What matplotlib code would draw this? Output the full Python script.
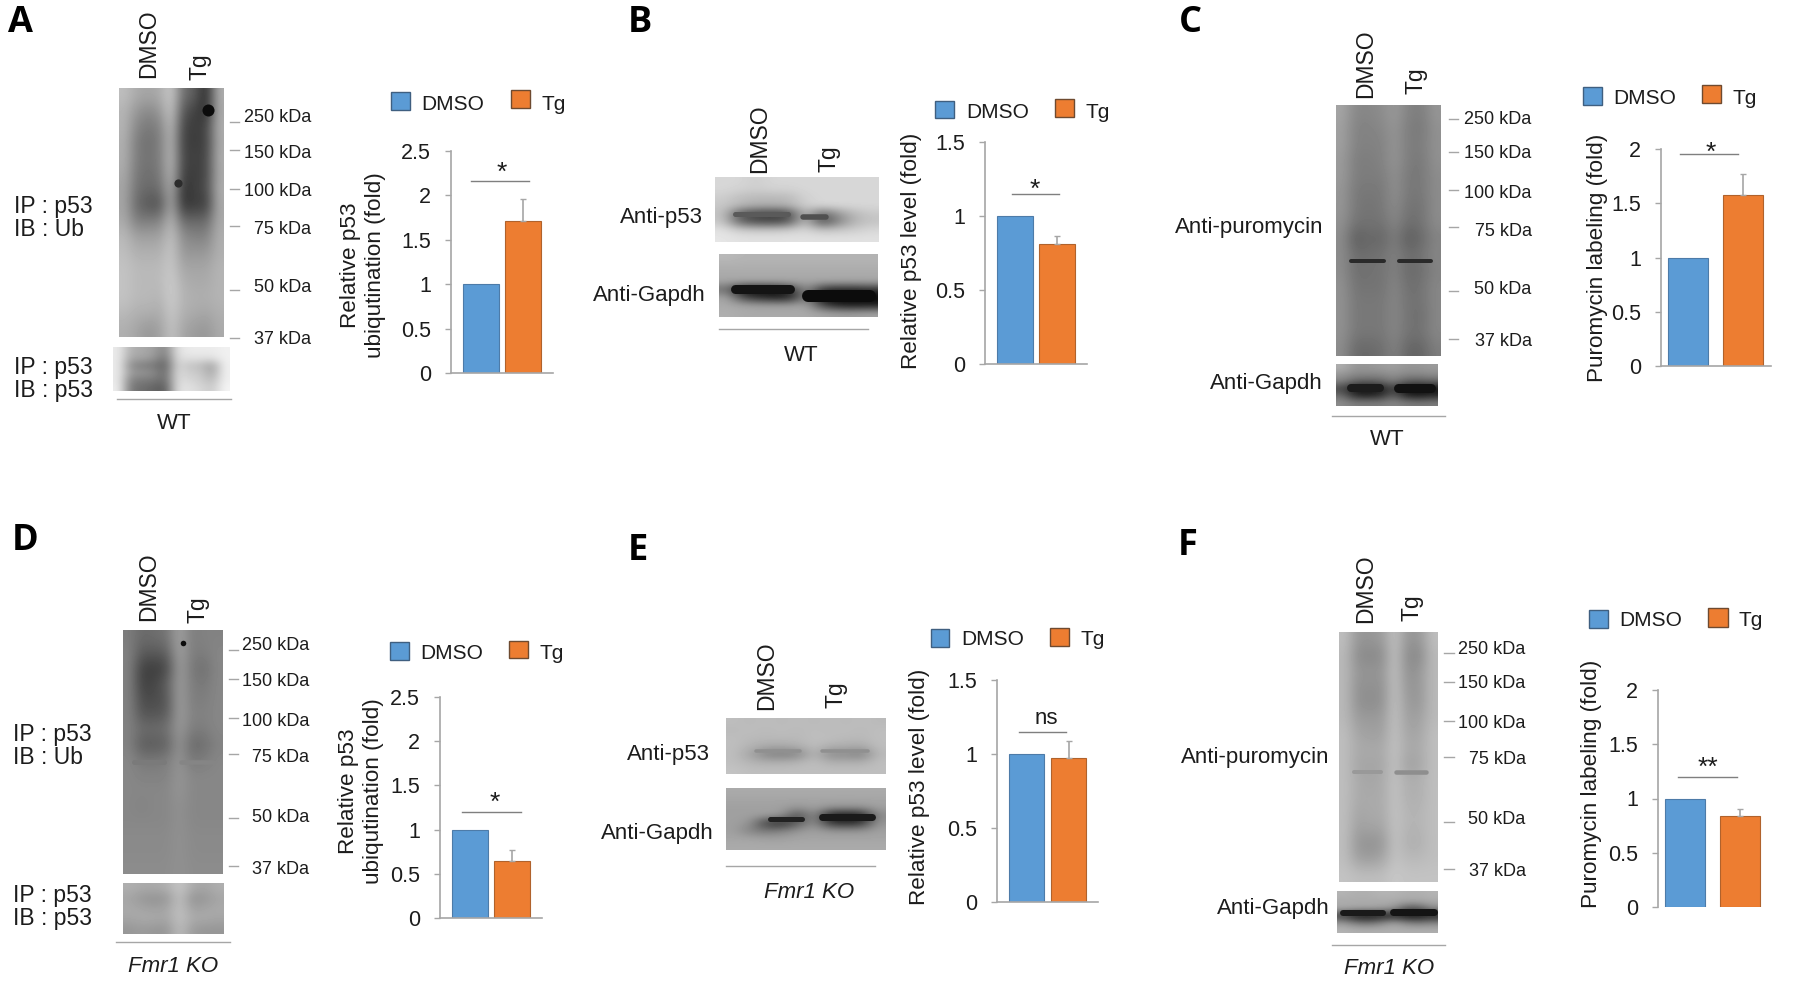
import numpy as np
import matplotlib
matplotlib.use('Agg')
import matplotlib.pyplot as plt
from matplotlib.patches import Rectangle

plt.rcParams['font.family'] = ['Liberation Sans', 'DejaVu Sans']

# Bar values
letters = ['A', 'B', 'C', 'D', 'E', 'F']
groups = ['DMSO', 'Tg']
dmso_values = [1, 1, 1, 1, 1, 1]
tg_values = [1.715, 0.81, 1.58, 0.648, 0.97, 0.84]
tg_err_top = [1.956, 0.868, 1.77, 0.77, 1.087, 0.90]
y_max = [2.5, 1.5, 2, 2.5, 1.5, 2]
signif = ['*', '*', '*', '*', 'ns', '**']
y_labels = ['Relative p53\nubiqutination (fold)', 'Relative p53 level (fold)', 'Puromycin labeling (fold)',
            'Relative p53\nubiqutination (fold)', 'Relative p53 level (fold)', 'Puromycin labeling (fold)']
kda_labels = ['250 kDa', '150 kDa', '100 kDa', '75 kDa', '50 kDa', '37 kDa']

# Blot densities, grey levels by eye (rows top to bottom, columns left to right)
blot_a_ub = [
    [190, 170, 165, 170, 205, 110, 95, 40, 175],
    [180, 150, 135, 150, 200, 85, 65, 45, 170],
    [180, 135, 120, 130, 190, 70, 60, 70, 175],
    [175, 125, 110, 125, 185, 65, 60, 65, 170],
    [175, 125, 115, 125, 190, 70, 65, 70, 175],
    [170, 120, 110, 120, 185, 65, 60, 70, 170],
    [165, 115, 105, 110, 175, 50, 65, 75, 175],
    [165, 105, 85, 80, 170, 50, 60, 60, 170],
    [170, 125, 125, 130, 185, 105, 105, 105, 170],
    [185, 160, 160, 160, 195, 140, 130, 130, 175],
    [190, 175, 175, 175, 200, 150, 150, 150, 175],
    [195, 185, 185, 185, 200, 165, 165, 165, 180],
    [195, 185, 185, 185, 205, 175, 170, 170, 180],
    [195, 185, 185, 180, 205, 180, 175, 175, 180],
    [185, 175, 175, 170, 200, 175, 170, 165, 175],
    [175, 165, 150, 160, 195, 165, 155, 150, 170],
]
blot_a_p53 = [
    [235, 175, 170, 160, 130, 225, 235, 235, 235, 240],
    [235, 165, 165, 150, 115, 220, 225, 225, 225, 240],
    [235, 140, 125, 120, 95, 215, 195, 190, 160, 240],
    [235, 155, 150, 140, 105, 220, 205, 200, 165, 240],
    [235, 130, 125, 120, 105, 220, 215, 205, 185, 240],
    [240, 120, 110, 100, 90, 225, 225, 215, 200, 245],
]
blot_b_p53 = [
    [215, 215, 205, 215, 215, 215, 215, 215, 215, 215],
    [215, 210, 205, 210, 210, 215, 215, 215, 215, 215],
    [205, 190, 185, 185, 185, 210, 215, 215, 215, 215],
    [200, 185, 175, 175, 180, 205, 215, 215, 215, 215],
    [195, 90, 70, 65, 70, 190, 100, 150, 185, 200],
    [200, 100, 75, 70, 85, 195, 70, 130, 180, 195],
    [225, 205, 200, 200, 205, 215, 195, 200, 205, 215],
    [230, 225, 225, 225, 225, 225, 225, 225, 225, 225],
]
blot_b_gapdh = [
    [185, 180, 180, 180, 180, 180, 180, 180, 180, 180],
    [175, 175, 175, 175, 175, 175, 175, 175, 175, 175],
    [170, 170, 170, 170, 170, 170, 170, 170, 170, 170],
    [165, 165, 165, 165, 165, 165, 165, 165, 165, 165],
    [110, 15, 15, 20, 50, 150, 50, 40, 40, 50],
    [165, 70, 40, 25, 30, 140, 10, 5, 5, 5],
    [170, 165, 160, 160, 160, 165, 70, 30, 25, 30],
    [175, 170, 170, 170, 170, 170, 165, 160, 160, 165],
]
blot_c_puro = [
    [165, 135, 135, 140, 155, 130, 125, 150],
    [160, 130, 130, 135, 150, 125, 120, 145],
    [160, 130, 130, 130, 150, 125, 125, 145],
    [155, 125, 125, 130, 150, 125, 120, 145],
    [155, 125, 125, 125, 145, 120, 120, 140],
    [150, 120, 120, 120, 145, 120, 120, 140],
    [150, 120, 115, 120, 140, 115, 115, 140],
    [145, 115, 115, 115, 135, 110, 115, 140],
    [140, 90, 105, 100, 125, 90, 105, 130],
    [140, 110, 110, 115, 130, 110, 115, 135],
    [140, 110, 115, 115, 130, 105, 110, 130],
    [145, 115, 115, 115, 135, 110, 115, 135],
    [145, 120, 120, 120, 135, 115, 115, 135],
    [145, 120, 120, 120, 135, 115, 110, 135],
    [145, 120, 120, 120, 135, 115, 115, 135],
    [140, 105, 105, 110, 130, 100, 100, 125],
]
blot_c_gapdh = [
    [175, 150, 150, 155, 160, 150, 150, 155],
    [150, 135, 135, 135, 145, 135, 135, 140],
    [130, 100, 95, 100, 125, 95, 90, 100],
    [70, 20, 15, 25, 70, 15, 10, 15],
    [110, 40, 35, 45, 100, 35, 25, 40],
    [140, 125, 125, 125, 135, 125, 120, 125],
]
blot_d_ub = [
    [125, 105, 110, 115, 165, 125, 130, 130],
    [130, 90, 90, 95, 165, 125, 125, 135],
    [130, 65, 60, 70, 160, 120, 110, 135],
    [130, 65, 70, 95, 160, 125, 120, 135],
    [130, 75, 75, 85, 160, 125, 125, 135],
    [130, 85, 85, 90, 160, 130, 130, 135],
    [130, 110, 110, 115, 155, 125, 125, 135],
    [130, 90, 90, 95, 150, 105, 110, 130],
    [135, 120, 120, 125, 150, 120, 125, 135],
    [135, 130, 130, 130, 150, 135, 135, 135],
    [135, 135, 135, 135, 150, 135, 135, 135],
    [135, 130, 135, 135, 145, 135, 135, 135],
    [135, 135, 135, 135, 145, 135, 135, 135],
    [138, 138, 138, 138, 145, 138, 138, 138],
    [138, 138, 138, 138, 145, 138, 138, 138],
    [140, 140, 140, 140, 145, 140, 140, 140],
]
blot_d_p53 = [
    [175, 170, 170, 175, 200, 170, 165, 175],
    [165, 150, 145, 150, 195, 145, 150, 165],
    [170, 165, 160, 165, 195, 160, 165, 170],
    [165, 170, 170, 165, 195, 170, 170, 165],
    [150, 155, 150, 150, 190, 155, 150, 150],
]
blot_e_p53 = [
    [190, 185, 190, 185, 190, 185, 190, 185, 190, 185],
    [185, 190, 185, 190, 185, 190, 185, 190, 185, 190],
    [190, 185, 185, 185, 185, 190, 190, 185, 185, 190],
    [190, 180, 170, 170, 175, 190, 175, 175, 170, 190],
    [190, 165, 130, 125, 130, 185, 135, 140, 125, 185],
    [190, 180, 175, 175, 180, 190, 175, 175, 175, 190],
    [195, 190, 190, 190, 190, 190, 190, 190, 190, 190],
]
blot_e_gapdh = [
    [170, 170, 170, 170, 170, 170, 170, 170, 170, 170],
    [165, 165, 165, 165, 165, 165, 165, 165, 165, 165],
    [160, 160, 160, 160, 150, 160, 150, 150, 150, 160],
    [160, 160, 160, 155, 70, 150, 25, 20, 25, 140],
    [160, 150, 60, 40, 90, 150, 50, 40, 50, 150],
    [160, 130, 120, 130, 150, 160, 150, 150, 150, 160],
    [165, 165, 160, 160, 165, 165, 165, 165, 165, 165],
    [170, 170, 170, 170, 170, 170, 170, 170, 170, 170],
]
blot_f_puro = [
    [190, 150, 150, 155, 195, 150, 150, 190],
    [185, 140, 135, 140, 195, 140, 135, 185],
    [185, 150, 150, 150, 195, 145, 150, 185],
    [185, 145, 145, 145, 195, 150, 150, 185],
    [185, 145, 140, 145, 195, 155, 150, 185],
    [185, 155, 155, 155, 195, 160, 160, 185],
    [190, 165, 160, 160, 195, 165, 165, 190],
    [190, 170, 170, 170, 195, 170, 170, 190],
    [190, 165, 165, 165, 195, 160, 165, 190],
    [190, 170, 165, 170, 195, 175, 175, 190],
    [190, 170, 170, 170, 195, 175, 175, 190],
    [190, 165, 170, 170, 195, 180, 180, 190],
    [190, 160, 165, 165, 195, 180, 180, 190],
    [190, 150, 145, 150, 195, 175, 175, 190],
    [190, 160, 155, 165, 195, 185, 185, 190],
    [195, 190, 190, 190, 200, 195, 195, 195],
]
blot_f_gapdh = [
    [180, 175, 175, 180, 180, 175, 175, 180],
    [170, 170, 170, 170, 170, 165, 165, 170],
    [170, 165, 165, 160, 150, 90, 90, 140],
    [60, 15, 10, 20, 30, 10, 10, 30],
    [150, 120, 110, 130, 160, 130, 120, 130],
    [180, 175, 175, 175, 175, 175, 175, 175],
]

BLUE, ORANGE = '#5B9BD5', '#ED7D31'
GREY = '#A6A6A6'
INK = '#1c1c1c'

# Layout in reference pixels
# axes box (left, top, right, bottom), bar spans, significance line and mark
ax_box = [(451, 151, 553, 373), (985.4, 142, 1087, 364), (1661, 149, 1770.6, 366),
          (440, 697, 542, 918), (997, 680, 1098, 902), (1658, 690, 1773, 907)]
bar_px = [(463.5, 499, 505.5, 541), (997, 1033, 1039, 1074.6), (1667.8, 1707.6, 1723, 1763),
          (452, 488, 494.5, 530), (1009, 1044, 1051, 1086), (1665, 1705, 1720, 1760.6)]
sig_line = [(471, 528.5, 181), (1012, 1059, 194), (1679.5, 1737.7, 154),
            (462, 521, 812), (1019, 1066, 732), (1678, 1736.5, 777)]
sig_mark = [(502, 173), (1035, 190), (1711, 153), (495, 803), (1046.6, 719), (1708, 768)]
ylabel_xy = [(363, 265), (912, 251), (1597, 258), (361, 791), (920, 787), (1592, 784)]
letter_xy = [(8, 32), (628, 32), (1179, 32), (12, 550), (628, 560), (1178, 555)]
# blue square x0,x1,y0,y1  DMSO left  orange x0,x1,y0,y1  Tg left  text y
legend_px = [((391, 410, 92, 110), 421, (511, 530, 90, 108), 541, 102),
             ((935, 954, 101, 118), 966, (1055, 1074, 99, 117), 1085, 110),
             ((1583, 1602, 87, 105), 1613, (1702, 1721, 85, 103), 1732.5, 96.5),
             ((389.6, 409, 642, 660), 420, (509, 528, 641, 658), 539.6, 651.5),
             ((930.6, 949.4, 629, 647), 961, (1050, 1069, 628, 646), 1080.7, 637.5),
             ((1589, 1608, 610, 628), 1619, (1708, 1728, 608, 627), 1738.5, 618.5)]
# lane labels: x of DMSO, bottom y, x of Tg, bottom y
lane_px = [(149, 78, 200, 80), (759.5, 173, 829, 172), (1365.5, 98, 1415.5, 94),
           (148.5, 621, 197.5, 623), (766.5, 710, 835.5, 708), (1366, 623, 1412.5, 621)]
# rule under the blots and the genotype label
geno_px = [(117, 231, 399, 174, 421, 'WT'), (719, 868, 329, 801, 353, 'WT'), (1331.5, 1445, 416, 1387, 437, 'WT'),
           (116, 230, 942, 173, 964, 'Fmr1 KO'), (726, 875, 866, 809, 890, 'Fmr1 KO'),
           (1331.5, 1445, 945, 1389, 966, 'Fmr1 KO')]

blots = [
    (blot_a_ub, 119, 224, 88, 337), (blot_a_p53, 113, 230, 347, 391),
    (blot_b_p53, 715, 879, 177, 242), (blot_b_gapdh, 719, 878, 254, 317),
    (blot_c_puro, 1335.5, 1440, 105, 356), (blot_c_gapdh, 1336, 1437.6, 364, 406),
    (blot_d_ub, 123, 223, 630, 874), (blot_d_p53, 122.5, 223, 883, 934),
    (blot_e_p53, 726, 886, 718, 774), (blot_e_gapdh, 726, 886, 788, 850),
    (blot_f_puro, 1339, 1438, 632, 882), (blot_f_gapdh, 1337, 1438, 891, 933),
]
# sharp bands that the coarse grids cannot hold: x0, x1, y, width, grey
thin_bands = [
    (1351, 1384, 261, 4.0, '#2a2a2a'), (1399, 1431, 261, 4.0, '#2a2a2a'),
    (134, 164, 762, 5.0, '#7a7a7a'), (181, 213, 762, 4.5, '#858585'),
    (1354, 1381, 772, 4.0, '#999999'), (1396, 1426, 772, 4.5, '#8e8e8e'),
    (735, 788, 214, 5.0, '#5a5a5a'), (803, 826, 217, 5.5, '#505050'),
    (735, 790, 289, 9.0, '#141414'), (808, 870, 296, 12.0, '#0c0c0c'),
    (1351, 1380, 388, 8.0, '#1c1c1c'), (1398, 1431, 388, 9.0, '#111111'),
    (756, 800, 751, 3.5, '#909090'), (822, 868, 751, 3.5, '#909090'),
    (770, 802, 819, 5.0, '#222222'), (822, 872, 817, 7.0, '#1a1a1a'),
    (1343, 1383, 913, 6.0, '#1a1a1a'), (1393, 1434, 912, 7.0, '#141414'),
]
# dark specks: x, y, size, colour
spots = [(208, 110, 75, '#0c0c0c'), (178, 183, 35, '#2c2c2c'), (183, 643, 16, '#0c0c0c')]

# kDa ladder: text right edge, tick x0, x1, text ys, tick ys
ladders = [
    (311, 230, 239, [116, 151, 190, 227, 286, 338], [122, 150, 189, 226, 290, 338]),
    (1531.6, 1449, 1458, [117, 152, 192, 229, 288, 340], [119, 152, 190, 227, 291, 339]),
    (309, 228.5, 238, [644, 680, 719, 756, 815, 867], [650, 679, 718, 754, 818, 866]),
    (1525.6, 1444, 1453.6, [647, 682, 721, 758, 818, 870], [653, 682, 721, 757, 822, 869]),
]
# blot names at right edge x, y
right_labels = [
    ('Anti-p53', 703, 215), ('Anti-Gapdh', 706, 293),
    ('Anti-puromycin', 1323, 225), ('Anti-Gapdh', 1323, 381),
    ('Anti-p53', 710, 752), ('Anti-Gapdh', 713.7, 831),
    ('Anti-puromycin', 1329.5, 755), ('Anti-Gapdh', 1329.5, 906),
]
ip_labels = [('IP : p53\nIB : Ub', 14, 218), ('IP : p53\nIB : p53', 14, 379),
             ('IP : p53\nIB : Ub', 12.6, 746), ('IP : p53\nIB : p53', 12.6, 907)]

W, H = 1800, 981
fig = plt.figure(figsize=(W / 100, H / 100), dpi=100)
ov = fig.add_axes([0, 0, 1, 1], zorder=0)


def txt(x, y, s, size=16, ha='center', va='center', **kw):
    ov.text(x, y, s, fontsize=size, ha=ha, va=va, color=INK, **kw)


for grid, x0, x1, y0, y1 in blots:
    ov.imshow(np.array(grid), cmap='gray', vmin=0, vmax=255, extent=(x0, x1, y1, y0),
              aspect='auto', interpolation='bicubic')
for x0, x1, y, lw, c in thin_bands:
    ov.plot([x0, x1], [y, y], color=c, lw=lw * 0.72, solid_capstyle='round')
for x, y, s, c in spots:
    ov.scatter([x], [y], s=s, color=c, linewidths=0)

ov.set_xlim(0, W)
ov.set_ylim(H, 0)
ov.axis('off')

for text_x, t0, t1, text_ys, tick_ys in ladders:
    for lab, ty, ky in zip(kda_labels, text_ys, tick_ys):
        txt(text_x, ty, lab, 13, ha='right', va='center_baseline')
        ov.plot([t0, t1], [ky, ky], color=GREY, lw=1.0)

for s, x, y in right_labels:
    txt(x, y, s, 16, ha='right', va='center_baseline')
for s, x, y in ip_labels:
    txt(x, y, s, 16.5, ha='left', linespacing=0.95)

for i in range(6):
    # panel letter
    ov.text(letter_xy[i][0], letter_xy[i][1], letters[i], fontsize=26, fontweight='bold',
            family='Open Sans', ha='left', va='baseline', color='black')

    # lane labels
    xd, bd, xt, bt = lane_px[i]
    txt(xd, bd, groups[0], 16.5, rotation=90, va='bottom')
    txt(xt, bt, groups[1], 16.5, rotation=90, va='bottom')

    # genotype rule and label
    x0, x1, y, tx, ty, name = geno_px[i]
    ov.plot([x0, x1], [y, y], color=GREY, lw=1.0)
    txt(tx, ty, name, 16, style='italic' if name != 'WT' else 'normal', va='center_baseline')

    # legend
    bs, dx, os_, tx, ty = legend_px[i]
    ov.add_patch(Rectangle((bs[0], bs[2]), bs[1] - bs[0], bs[3] - bs[2], fc=BLUE, ec='#3f5f80', lw=1.0))
    ov.add_patch(Rectangle((os_[0], os_[2]), os_[1] - os_[0], os_[3] - os_[2], fc=ORANGE, ec='#6e4a30', lw=1.0))
    txt(dx, ty, groups[0], 15, ha='left', va='center_baseline')
    txt(tx, ty, groups[1], 15, ha='left', va='center_baseline')

    # bars
    L, T, R, B = ax_box[i]
    ax = fig.add_axes([L / W, 1 - B / H, (R - L) / W, (B - T) / H], zorder=1)
    ax.patch.set_visible(False)
    b0, b1, b2, b3 = bar_px[i]
    c0, c1 = (b0 + b1) / 2, (b2 + b3) / 2
    step = c1 - c0
    ax.bar([0, 1], [dmso_values[i], tg_values[i]], width=(b1 - b0) / step,
           color=[BLUE, ORANGE], edgecolor=['#4d7ba8', '#b0622c'], linewidth=0.8)
    ax.errorbar([1], [tg_values[i]], yerr=[[0], [tg_err_top[i] - tg_values[i]]], color=GREY,
                elinewidth=1.2, capsize=2.2, capthick=1.0, ls='none')
    ax.set_xlim((L - c0) / step, (R - c0) / step)
    ax.set_ylim(0, y_max[i])
    ax.set_xticks([])
    ax.set_yticks(np.arange(0, y_max[i] + 0.01, 0.5))
    ax.set_yticklabels(['%g' % v for v in np.arange(0, y_max[i] + 0.01, 0.5)])
    ax.tick_params(axis='y', length=4.5, width=1.0, color=GREY, pad=10, labelsize=15.5, labelcolor=INK)
    for side in ['top', 'right']:
        ax.spines[side].set_visible(False)
    ax.spines['left'].set_color(GREY)
    ax.spines['left'].set_linewidth(1.2)
    ax.spines['bottom'].set_color(GREY)
    ax.spines['bottom'].set_linewidth(1.2)
    if i == 5:
        ax.spines['bottom'].set_visible(False)

    # significance
    sx0, sx1, sy = sig_line[i]
    ov.plot([sx0, sx1], [sy, sy], color='#7f7f7f', lw=1.0)
    txt(sig_mark[i][0], sig_mark[i][1], signif[i], 16 if signif[i] == 'ns' else 19)

    # y label
    txt(ylabel_xy[i][0], ylabel_xy[i][1], y_labels[i], 16.2,
        rotation=90, linespacing=1.22, ma='center')

ov.set_xlim(0, W)
ov.set_ylim(H, 0)

fig.savefig('out.png', dpi=100, facecolor='white')
